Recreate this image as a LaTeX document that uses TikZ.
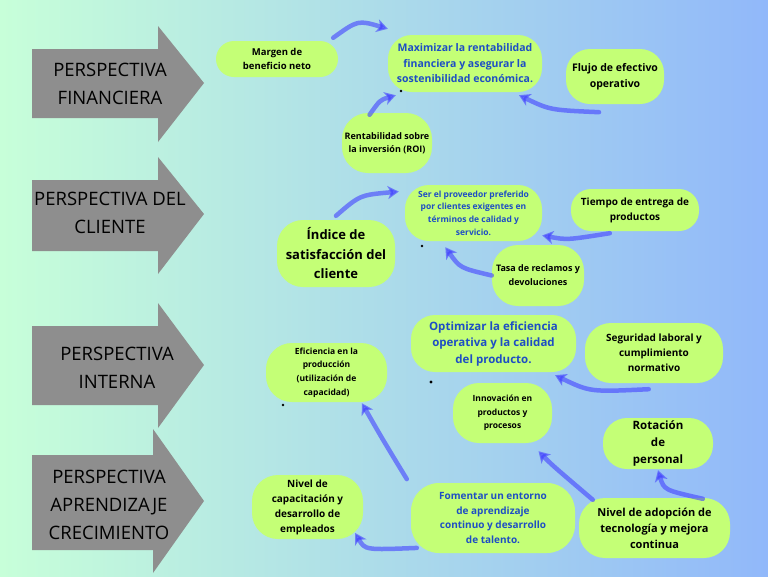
\documentclass[tikz,border=0pt]{standalone}
\usepackage{fontspec}
\setmainfont{Open Sans}
\usetikzlibrary{arrows.meta}
\definecolor{bgleft}{RGB}{199,255,217}
\definecolor{bgright}{RGB}{145,184,250}
\definecolor{perspgray}{RGB}{142,142,142}
\definecolor{limefill}{RGB}{196,255,118}
\definecolor{goalblue}{RGB}{30,78,196}
\definecolor{linkblue}{RGB}{70,70,255}
\tikzset{
  persptext/.style={black, align=center, font=\fontsize{18.5}{28}\selectfont},
  kpi/.style n args={2}{fill=limefill, rounded corners=18pt, align=center, inner sep=0pt,
    text=black, font=\bfseries\fontsize{#1}{#2}\selectfont},
  goal/.style n args={2}{kpi={#1}{#2}, text=goalblue},
  link/.style={linkblue, opacity=.62, line width=4.5pt, line cap=round,
    -{Stealth[length=11pt,width=13pt,inset=3pt]}},
}
\begin{document}
\begin{tikzpicture}[x=1pt, y=-1pt]
        \shade[left color=bgleft, right color=bgright] (0,0) rectangle (768,576);
        \useasboundingbox (0,0) rectangle (768,576);
        \foreach \bt/\bb/\ht/\hb/\tip/\hx in {49/118/26/142/83/158, 180/251/157/274/214/158,
            326/405/303/428/365/158, 455/550/429/573/501/153}
        \fill[perspgray] (32,\bt) -- (\hx,\bt) -- (\hx,\ht) -- (204,\tip) -- (\hx,\hb) -- (\hx,\bb) -- (32,\bb) -- cycle;
        \node[persptext] (pfin) at (110,84) {PERSPECTIVA\\FINANCIERA};
        \node[persptext] (pcli) at (110,213) {PERSPECTIVA DEL\\CLIENTE};
        \node[persptext] (pint) at (117,367.5) {PERSPECTIVA\\INTERNA};
        \node[persptext] (papr) at (109,504.5) {PERSPECTIVA\\APRENDIZAJE\\CRECIMIENTO};
        % financiera
        \node[kpi={9.5}{14}, minimum width=122pt, minimum height=36pt] (margen) at (277,59) {Margen de\\beneficio neto};
        \node[goal={10.5}{15.5}, minimum width=154pt, minimum height=57pt, rounded corners=24pt] (maxi) at (465,63.5) {Maximizar la rentabilidad\\financiera y asegurar la\\sostenibilidad económica.};
        \node[kpi={10.5}{16}, minimum width=98pt, minimum height=55pt, rounded corners=24pt] (flujo) at (615,76.5) {Flujo de efectivo\\operativo};
        \node[kpi={9}{13}, minimum width=90pt, minimum height=60pt, rounded corners=26pt] (roi) at (387,143) {Rentabilidad sobre\\la inversión (ROI)};
        % cliente
        \node[goal={8.5}{12.7}, minimum width=137pt, minimum height=56pt, rounded corners=24pt] (ser) at (473.5,213) {Ser el proveedor preferido\\por clientes exigentes en\\términos de calidad y\\servicio.};
        \node[kpi={10}{15}, minimum width=128pt, minimum height=42pt, rounded corners=20pt] (tiempo) at (635,210) {Tiempo de entrega de\\productos};
        \node[kpi={13}{19.5}, minimum width=118pt, minimum height=67pt, rounded corners=26pt] (indice) at (336,253.5) {Índice de\\satisfacción del\\cliente};
        \node[kpi={9}{14}, minimum width=92pt, minimum height=61pt, rounded corners=26pt] (tasa) at (538,275.5) {Tasa de reclamos y\\devoluciones};
        % interna
        \node[goal={11.5}{16.5}, minimum width=165pt, minimum height=57pt, rounded corners=24pt] (optim) at (493.5,343.5) {Optimizar la eficiencia\\operativa y la calidad\\del producto.};
        \node[kpi={10}{15}, minimum width=138pt, minimum height=60pt, rounded corners=26pt] (segur) at (654,353) {Seguridad laboral y\\cumplimiento\\normativo};
        \node[kpi={8.5}{13.7}, minimum width=121pt, minimum height=59pt, rounded corners=26pt] (efic) at (326.5,372.5) {Eficiencia en la\\producción\\(utilización de\\capacidad)};
        \node[kpi={8.5}{13.5}, minimum width=99pt, minimum height=60pt, rounded corners=26pt] (innov) at (502.5,413) {Innovación en\\productos y\\procesos};
        % aprendizaje
        \node[kpi={11.5}{17}, minimum width=110pt, minimum height=51pt, rounded corners=24pt] (rotac) at (658,443.5) {Rotación\\de\\personal};
        \node[kpi={10}{15}, minimum width=111pt, minimum height=64pt, rounded corners=26pt] (capac) at (307.5,507) {Nivel de\\capacitación y\\desarrollo de\\empleados};
        \node[goal={10}{14.7}, minimum width=164pt, minimum height=70pt, rounded corners=28pt] (foment) at (493,518) {Fomentar un entorno\\de aprendizaje\\continuo y desarrollo\\de talento.};
        \node[kpi={11}{16}, minimum width=151pt, minimum height=60pt, rounded corners=26pt] (adop) at (654.5,528) {Nivel de adopción de\\tecnología y mejora\\continua};
        \fill (401,91) circle (1.3pt);
        \fill (422,246) circle (1.3pt);
        \fill (283,405) circle (1.3pt);
        \fill (431,382) circle (1.6pt);
        \draw[link] ([xshift=-5pt,yshift=3pt]margen.north east) .. controls (358,20) .. ([yshift=6pt]maxi.north west);
        \draw[link] ([yshift=-2pt]roi.120) .. controls (380,100) .. ([xshift=8pt,yshift=-3pt]maxi.south west);
        \draw[link] ([yshift=-8pt]flujo.240) .. controls (550,110) .. ([yshift=-3pt]maxi.-28);
        \draw[link] ([yshift=4pt]indice.north) .. controls (360,195) .. ([xshift=-6pt,yshift=3pt]ser.165);
        \draw[link] ([xshift=-4pt,yshift=-2pt]tiempo.-135) .. controls (567,240) .. ([yshift=-4pt]ser.-15);
        \draw[link] (tasa.west) .. controls (460,268) .. ([yshift=-6pt]ser.-135);
        \draw[link] ([yshift=-6pt]segur.-100) .. controls (590,392) .. ([yshift=-3pt]optim.-25);
        \draw[link] ([xshift=-4pt,yshift=9pt]foment.160) .. controls (383,440) .. ([yshift=-1pt]efic.-40);
        \draw[link] ([xshift=14pt,yshift=-2pt]adop.north west) .. controls (552,465) .. ([yshift=-8pt]innov.-40);
        \draw[link] ([yshift=-1pt]adop.32) .. controls (664,490) .. ([yshift=-1pt]rotac.south);
        \draw[link] ([xshift=6pt]foment.200) .. controls (365,550) .. ([xshift=-8pt]capac.-25);
\end{tikzpicture}
\end{document}
